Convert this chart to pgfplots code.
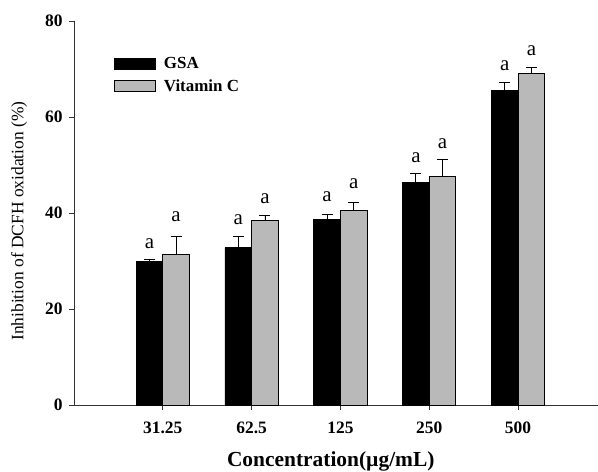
\documentclass[border=0pt]{standalone}
\usepackage{pgfplots}
\pgfplotsset{compat=1.18}
\usepackage{fontspec}
\setmainfont{Liberation Serif}
\definecolor{vitc}{RGB}{185,185,185}
\definecolor{axcol}{RGB}{50,50,50}
\pgfplotsset{
  mybarlegend/.style={legend image code/.code={\draw[##1,line width=0.9bp] (0bp,-5.5bp) rectangle (41bp,5.5bp);}},
}
\begin{document}
\begin{tikzpicture}
\begin{axis}[
  at={(0,0)}, anchor=south west,
  scale only axis, width=524bp, height=384bp,
  xmin=-1, xmax=4.9, ymin=0, ymax=80,
  clip=false,
  axis lines*=left,
  axis line style={-, line width=0.9bp, axcol},
  xtick={0,1,2,3,4},
  xticklabels={31.25,62.5,125,250,500},
  ytick={0,20,40,60,80},
  tick align=outside, major tick length=5bp,
  tick style={line width=0.9bp, axcol},
  /pgf/number format/assume math mode=true,
  ticklabel style={font=\bfseries\fontsize{17.5}{17.5}\selectfont},
  xticklabel style={yshift=-8bp},
  yticklabel style={xshift=-3bp},
  xlabel={Concentration(µg/mL)},
  xlabel style={at={(axis description cs:0.49,-0.146)}, anchor=center, font=\bfseries\fontsize{21.5}{21.5}\selectfont},
  ylabel={Inhibition of DCFH oxidation (\%)},
  ylabel style={at={(axis description cs:-0.105,0.479)}, anchor=center, font=\fontsize{17.5}{17.5}\selectfont},
  legend style={draw=none, fill=none, at={(axis description cs:0.076,0.91)}, anchor=north west,
    inner sep=0pt, row sep=5bp, column sep=6bp, font=\bfseries\fontsize{17}{17}\selectfont},
  legend cell align=left,
]
\addplot[ybar, bar width=0.3, bar shift=0, fill=black, draw=black, line width=0.9bp, mybarlegend,
  error bars/.cd, y dir=plus, y explicit,
  error bar style={line width=0.9bp, black},
  error mark options={rotate=90, line width=0.9bp, black, mark size=5.5bp}]
  coordinates {(-0.15,29.9) +- (0,0.4) (0.85,32.8) +- (0,2.3) (1.85,38.75) +- (0,0.85) (2.85,46.3) +- (0,1.9) (3.85,65.6) +- (0,1.5)};
\addlegendentry{GSA}
\addplot[ybar, bar width=0.3, bar shift=0, fill=vitc, draw=black, line width=0.9bp, mybarlegend,
  error bars/.cd, y dir=plus, y explicit,
  error bar style={line width=0.9bp, black},
  error mark options={rotate=90, line width=0.9bp, black, mark size=5.5bp}]
  coordinates {(0.15,31.4) +- (0,3.7) (1.15,38.4) +- (0,1.0) (2.15,40.5) +- (0,1.7) (3.15,47.6) +- (0,3.65) (4.15,69.0) +- (0,1.3)};
\addlegendentry{Vitamin C}
\addplot[draw=none, mark=none, forget plot, nodes near coords={a},
  nodes near coords style={anchor=base, inner sep=0pt, font=\fontsize{21}{21}\selectfont, text=black}]
  coordinates {(-0.15,32.7) (0.85,37.5) (1.85,42.3) (2.85,50.5) (3.85,69.6)
               (0.15,38.3) (1.15,42.0) (2.15,45.0) (3.15,53.5) (4.15,72.9)};
\end{axis}
\pgfresetboundingbox
\path[use as bounding box] (-74bp,-67bp) rectangle (524bp,405bp);
\end{tikzpicture}
\end{document}
